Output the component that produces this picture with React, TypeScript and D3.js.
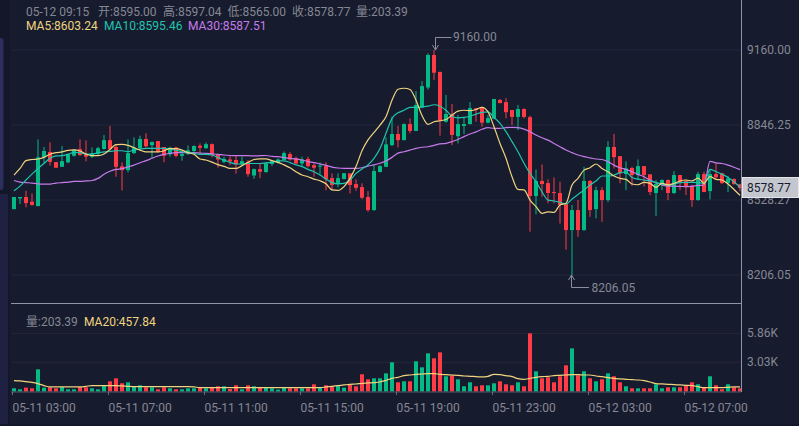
import * as d3 from 'd3';

// 15 minute candles, 05-11 03:00 to 05-12 09:15
const opens = [
  8489, 8535, 8541, 8521, 8502, 8709, 8732, 8689, 8669, 8688, 8716, 8744, 8722, 8712, 8723, 8744, 8782, 8753, 8671, 8655,
  8727, 8748, 8787, 8761, 8778, 8753, 8722, 8751, 8715, 8723, 8736, 8758, 8748, 8765, 8723, 8690, 8700, 8698, 8680, 8690,
  8632, 8659, 8647, 8681, 8686, 8698, 8723, 8706, 8683, 8702, 8676, 8671, 8672, 8621, 8596, 8617, 8641, 8596, 8583, 8541,
  8485, 8647, 8669, 8761, 8808, 8782, 8850, 8821, 8920, 9003, 9139, 9068, 8860, 8892, 8799, 8842, 8850, 8916, 8917, 8856,
  8873, 8951, 8942, 8909, 8880, 8913, 8879, 8545, 8609, 8600, 8562, 8558, 8511, 8399, 8485, 8399, 8609, 8489, 8570, 8528,
  8753, 8714, 8638, 8664, 8634, 8672, 8637, 8558, 8592, 8613, 8558, 8634, 8609, 8588, 8528, 8638, 8566, 8638, 8641, 8600,
  8617, 8595,
];
const highs = [
  8541, 8541, 8567, 8556, 8785, 8753, 8773, 8689, 8757, 8726, 8744, 8785, 8781, 8751, 8754, 8804, 8842, 8765, 8688, 8785,
  8794, 8801, 8811, 8777, 8778, 8753, 8754, 8754, 8733, 8760, 8760, 8768, 8772, 8768, 8723, 8712, 8719, 8719, 8712, 8698,
  8662, 8684, 8687, 8695, 8705, 8734, 8731, 8712, 8712, 8712, 8683, 8688, 8688, 8641, 8641, 8642, 8641, 8616, 8599, 8566,
  8676, 8676, 8794, 8881, 8842, 8853, 8874, 8988, 9030, 9146, 9160, 9070, 8972, 8934, 8888, 8878, 8942, 8916, 8923, 8888,
  8955, 8955, 8959, 8909, 8930, 8916, 8885, 8658, 8679, 8616, 8624, 8606, 8511, 8507, 8528, 8669, 8613, 8585, 8582, 8778,
  8808, 8714, 8692, 8669, 8700, 8672, 8637, 8613, 8616, 8616, 8651, 8634, 8616, 8592, 8648, 8648, 8659, 8684, 8644, 8630,
  8620, 8597.04,
];
const lows = [
  8489, 8511, 8497, 8504, 8502, 8684, 8674, 8665, 8669, 8684, 8712, 8715, 8692, 8706, 8719, 8743, 8737, 8627, 8569, 8645,
  8723, 8744, 8751, 8706, 8729, 8688, 8712, 8709, 8695, 8719, 8732, 8726, 8745, 8709, 8666, 8684, 8676, 8640, 8676, 8627,
  8618, 8621, 8644, 8672, 8683, 8698, 8695, 8680, 8669, 8666, 8627, 8638, 8570, 8570, 8582, 8616, 8556, 8568, 8532, 8478,
  8482, 8645, 8668, 8757, 8751, 8782, 8811, 8821, 8916, 8994, 9034, 8801, 8856, 8761, 8768, 8808, 8849, 8860, 8839, 8853,
  8870, 8937, 8874, 8846, 8825, 8874, 8392, 8467, 8542, 8514, 8514, 8427, 8315, 8206.05, 8370, 8396, 8456, 8449, 8435, 8519,
  8662, 8599, 8570, 8588, 8613, 8585, 8549, 8459, 8570, 8528, 8554, 8570, 8549, 8499, 8525, 8562, 8531, 8618, 8596, 8562,
  8593, 8565,
];
const closes = [
  8541, 8541, 8515, 8507, 8709, 8736, 8690, 8665, 8693, 8722, 8741, 8719, 8712, 8726, 8748, 8782, 8744, 8669, 8655, 8727,
  8750, 8787, 8756, 8774, 8732, 8716, 8750, 8715, 8723, 8739, 8757, 8750, 8765, 8719, 8700, 8702, 8692, 8680, 8693, 8638,
  8659, 8648, 8684, 8693, 8700, 8727, 8700, 8683, 8700, 8672, 8665, 8674, 8616, 8592, 8621, 8642, 8592, 8580, 8538, 8485,
  8651, 8672, 8764, 8808, 8782, 8850, 8821, 8930, 9009, 9139, 9065, 8864, 8892, 8804, 8850, 8850, 8917, 8909, 8856, 8875,
  8955, 8938, 8900, 8880, 8913, 8880, 8545, 8609, 8596, 8558, 8558, 8507, 8399, 8485, 8399, 8609, 8485, 8570, 8528, 8753,
  8710, 8641, 8662, 8634, 8672, 8634, 8562, 8596, 8613, 8558, 8634, 8604, 8588, 8528, 8638, 8562, 8638, 8625, 8600, 8620,
  8596, 8578.77,
];
const volumes = [
  493, 395, 558, 493, 2345, 558, 590, 493, 622, 395, 395, 622, 590, 493, 395, 720, 1175, 1467, 980, 1077,
  622, 785, 590, 590, 395, 590, 493, 395, 395, 493, 493, 558, 493, 558, 687, 687, 427, 785, 395, 785,
  687, 558, 558, 493, 363, 525, 493, 493, 493, 493, 883, 558, 785, 655, 720, 558, 818, 688, 1858, 1370,
  1468, 1468, 1955, 3028, 1078, 1175, 1175, 3125, 2540, 3905, 3418, 4003, 1663, 1760, 1370, 688, 1078, 688, 785, 785,
  980, 1175, 883, 785, 1078, 688, 5855, 2150, 1468, 1565, 1078, 1663, 2735, 4393, 1760, 2150, 1468, 1175, 1370, 1955,
  1663, 1078, 688, 493, 493, 493, 493, 883, 493, 590, 590, 590, 785, 1078, 883, 590, 1663, 785, 395, 883,
  590, 493,
];
const ma5 = [
  8634, 8662, 8695, 8700, 8702, 8709, 8722, 8729, 8732, 8739, 8741, 8736, 8723, 8716, 8716, 8723, 8743, 8763, 8764, 8760,
  8750, 8740, 8732, 8732, 8732, 8737, 8746, 8746, 8740, 8729, 8722, 8702, 8698, 8689, 8678, 8671, 8662, 8662, 8674, 8688,
  8700, 8703, 8703, 8695, 8688, 8677, 8665, 8648, 8634, 8627, 8617, 8610, 8597, 8571, 8569, 8585, 8620, 8670, 8737, 8783,
  8815, 8846, 8881, 8950, 8996, 9000, 8995, 8950, 8886, 8849, 8860, 8864, 8869, 8888, 8904, 8908, 8906, 8911, 8920, 8901,
  8839, 8768, 8705, 8627, 8573, 8571, 8528, 8500, 8471, 8477, 8475, 8507, 8514, 8592, 8620, 8655, 8665, 8681, 8662, 8648,
  8630, 8620, 8616, 8596, 8593, 8603, 8599, 8582, 8599, 8592, 8599, 8609, 8613, 8609, 8621, 8599, 8627, 8616, 8613, 8596,
  8573, 8548,
];
const ma10 = [
  8568, 8587, 8613, 8638, 8662, 8683, 8705, 8715, 8716, 8722, 8730, 8729, 8723, 8723, 8729, 8732, 8734, 8737, 8737, 8733,
  8740, 8744, 8747, 8747, 8747, 8747, 8743, 8740, 8733, 8729, 8726, 8722, 8722, 8719, 8708, 8698, 8688, 8681, 8681, 8683,
  8683, 8683, 8686, 8688, 8694, 8694, 8687, 8677, 8670, 8658, 8648, 8634, 8617, 8602, 8597, 8599, 8613, 8641, 8660, 8677,
  8705, 8747, 8811, 8874, 8897, 8908, 8920, 8920, 8922, 8925, 8931, 8925, 8908, 8883, 8876, 8878, 8883, 8892, 8899, 8901,
  8878, 8853, 8818, 8776, 8733, 8684, 8641, 8606, 8563, 8528, 8524, 8518, 8511, 8532, 8552, 8570, 8592, 8609, 8630, 8630,
  8634, 8644, 8647, 8624, 8617, 8613, 8609, 8602, 8596, 8592, 8596, 8602, 8603, 8603, 8602, 8599, 8658, 8648, 8638, 8624,
  8606, 8582,
];
const ma30 = [
  8611, 8604, 8602, 8600, 8597, 8596, 8596, 8600, 8602, 8604, 8607, 8607, 8609, 8611, 8620, 8637, 8650, 8658, 8661, 8669,
  8676, 8686, 8695, 8705, 8715, 8722, 8726, 8729, 8729, 8729, 8729, 8727, 8726, 8724, 8722, 8719, 8717, 8716, 8716, 8716,
  8715, 8716, 8717, 8713, 8712, 8708, 8705, 8702, 8698, 8691, 8687, 8681, 8675, 8668, 8664, 8662, 8662, 8662, 8665, 8672,
  8677, 8684, 8694, 8709, 8727, 8733, 8740, 8747, 8752, 8754, 8760, 8766, 8768, 8776, 8785, 8797, 8808, 8817, 8828, 8835,
  8832, 8832, 8835, 8836, 8835, 8829, 8818, 8804, 8792, 8782, 8768, 8754, 8740, 8729, 8719, 8712, 8707, 8702, 8700, 8691,
  8676, 8665, 8658, 8648, 8637, 8627, 8613, 8602, 8592, 8587, 8587, 8586, 8585, 8587, 8590, 8592, 8692, 8686, 8683, 8676,
  8667, 8657,
];
const volMa20 = [
  1240, 1208, 1143, 1078, 948, 753, 623, 623, 623, 623, 623, 623, 688, 753, 753, 753, 753, 753, 720, 688,
  655, 655, 655, 655, 655, 655, 655, 655, 655, 655, 623, 558, 558, 558, 558, 558, 558, 558, 558, 558,
  558, 558, 558, 558, 558, 558, 558, 558, 558, 558, 558, 558, 623, 688, 753, 818, 883, 915, 980, 1013,
  1045, 1110, 1273, 1468, 1565, 1728, 1793, 1858, 1890, 1923, 1923, 1858, 1825, 1793, 1760, 1695, 1663, 1630, 1598, 1663,
  1858, 1825, 1728, 1630, 1435, 1370, 1468, 1565, 1630, 1663, 1728, 1760, 1793, 1825, 1825, 1793, 1793, 1695, 1630, 1533,
  1468, 1403, 1370, 1338, 1305, 1240, 1110, 948, 915, 883, 850, 818, 785, 753, 655, 558, 558, 558, 558, 590,
  623, 623,
];

const priceTicks = [8206.05, 8528.27, 8846.25, 9160];
const volTicks = [3030, 5860];
const volTickLabels = ['3.03K', '5.86K'];
const timeTicks = [0, 16, 32, 48, 64, 80, 96, 112];
const timeLabels = [
  '05-11 03:00', '05-11 07:00', '05-11 11:00', '05-11 15:00',
  '05-11 19:00', '05-11 23:00', '05-12 03:00', '05-12 07:00',
];
const headerItems = ['05-12 09:15', '开:8595.00', '高:8597.04', '低:8565.00', '收:8578.77', '量:203.39'];
const headerX = [26, 98, 163, 227.5, 292, 356];

const UP = '#05b984';
const DOWN = '#ff3b46';
const GRID = '#23273a';
const TEXT = '#858893';
const YELLOW = '#f0d47e';
const TEAL = '#1fc4ae';
const PURPLE = '#c57bea';
const FONT = 'Roboto, "Noto Sans CJK SC", sans-serif';

const x = d3.scaleLinear().domain([0, 121]).range([14, 740]);
// the price axis is not quite linear in the picture, hence one segment per tick
const y = d3.scaleLinear().domain(priceTicks).range([275, 200, 125, 50]);
const yVol = d3.scaleLinear().domain(volTicks).range([362.3, 333.3]);
const volBase = 391.5;

const priceLine = (values: number[]) =>
  d3.line<number>().x((_, i) => x(i)).y(v => y(v)).curve(d3.curveMonotoneX)(values) ?? '';
const volLine = d3.line<number>().x((_, i) => x(i)).y(v => yVol(v)).curve(d3.curveMonotoneX);

const App = () => {
  const hiIdx = highs.indexOf(d3.max(highs) as number);
  const loIdx = lows.indexOf(d3.min(lows) as number);
  const hx = x(hiIdx) + 1.5;
  const lx = x(loIdx) - 0.5;
  const hy = y(highs[hiIdx]);
  const ly = y(lows[loIdx]);

  return (
    <svg width={799} height={426} style={{ position: 'fixed', left: 0, top: 0 }} fontFamily={FONT} fontSize={12}>
      <rect width={799} height={426} fill="#171b2e" />
      <rect width={10} height={426} fill="#141729" />
      <rect x={-4} y={38} width={7.5} height={152} rx={3} fill="#2c2f5c" />
      <rect y={194} width={8} height={232} fill="#1f2142" />
      <rect y={424} width={799} height={2} fill="#141729" />

      {priceTicks.map(t => (
        <line key={t} x1={11} x2={741} y1={y(t)} y2={y(t)} stroke={GRID} />
      ))}
      {volTicks.map(t => (
        <line key={t} x1={11} x2={741} y1={yVol(t)} y2={yVol(t)} stroke={GRID} />
      ))}

      {closes.map((c, i) => {
        const color = c >= opens[i] ? UP : DOWN;
        const top = y(Math.max(opens[i], c));
        const bottom = y(Math.min(opens[i], c));
        return (
          <g key={i} fill={color}>
            <rect x={x(i) - 0.5} y={y(highs[i])} width={1} height={y(lows[i]) - y(highs[i])} />
            <rect x={x(i) - 2} y={top} width={4} height={Math.max(bottom - top, 1)} />
          </g>
        );
      })}

      <path d={priceLine(ma30)} fill="none" stroke={PURPLE} strokeWidth={1.2} />
      <path d={priceLine(ma10)} fill="none" stroke={TEAL} strokeWidth={1.2} />
      <path d={priceLine(ma5)} fill="none" stroke={YELLOW} strokeWidth={1.2} />

      {volumes.map((v, i) => (
        <rect
          key={i}
          x={x(i) - 2}
          y={yVol(v)}
          width={4}
          height={volBase - yVol(v)}
          fill={closes[i] >= opens[i] ? UP : DOWN}
        />
      ))}
      <line x1={11} x2={741} y1={volBase + 0.5} y2={volBase + 0.5} stroke="#555a6b" />
      <path d={volLine(volMa20) ?? ''} fill="none" stroke={YELLOW} strokeWidth={1.2} />

      <line x1={11} x2={741} y1={303.5} y2={303.5} stroke="#8f95a6" />
      <line x1={741.5} x2={741.5} y1={0} y2={392} stroke="#8f95a6" />

      {timeTicks.map((t, i) => (
        <g key={t}>
          <line x1={x(t) - 1.5} x2={x(t) - 1.5} y1={392} y2={395} stroke="#6a6f80" />
          <text x={x(t) - 1.5} y={412} fill={TEXT}>{timeLabels[i]}</text>
        </g>
      ))}
      {priceTicks.map(t => (
        <text key={t} x={747} y={y(t) + 4} fill={TEXT}>{t.toFixed(2)}</text>
      ))}
      {volTicks.map((t, i) => (
        <text key={t} x={747} y={yVol(t) + 4} fill={TEXT}>{volTickLabels[i]}</text>
      ))}

      {/* high and low markers */}
      <g fill="none" stroke="#8a8e9c">
        <path d={`M${hx},${hy}V37.5H451.5`} />
        <path d={`M${hx - 3},${hy - 5}L${hx},${hy}L${hx + 3},${hy - 5}`} />
        <path d={`M${lx},${ly}V287.5H589`} />
        <path d={`M${lx - 3},${ly + 5}L${lx},${ly}L${lx + 3},${ly + 5}`} />
      </g>
      <text x={453} y={41} fill={TEXT}>{highs[hiIdx].toFixed(2)}</text>
      <text x={591.5} y={291.5} fill={TEXT}>{lows[loIdx].toFixed(2)}</text>

      {/* last price tag */}
      <rect x={742.5} y={177.5} width={56} height={20} fill="#c5c7ce" stroke="#e4e5ea" />
      <text x={747} y={192} fill="#171b2e">{closes[121].toFixed(2)}</text>

      {headerItems.map((h, i) => (
        <text key={h} x={headerX[i]} y={15.5} fill={TEXT}>{h}</text>
      ))}
      <text x={26} y={30} fill={YELLOW}>MA5:8603.24</text>
      <text x={104} y={30} fill={TEAL}>MA10:8595.46</text>
      <text x={188} y={30} fill={PURPLE}>MA30:8587.51</text>
      <text x={26} y={325.5} fill={TEXT}>量:203.39</text>
      <text x={84} y={325.5} fill={YELLOW}>MA20:457.84</text>
    </svg>
  );
};

export default App;
